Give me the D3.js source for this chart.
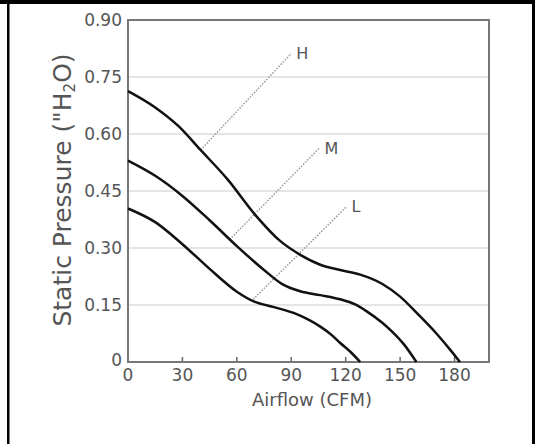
<!DOCTYPE html>
<html>
<head>
<script src="https://d3js.org/d3.v7.min.js"></script>
<style>
body { margin: 0; background: #fff; }
text { font-family: "DejaVu Sans", sans-serif; fill: #555; }
</style>
</head>
<body>
<div id="chart"></div>
<script>
// fan curves
var airflowH = [0, 15, 28, 40, 55, 70, 84, 95, 106, 117, 128, 140, 150, 160, 170, 178, 183];
var pressureH = [0.713, 0.67, 0.62, 0.558, 0.48, 0.388, 0.318, 0.282, 0.256, 0.242, 0.23, 0.206, 0.172, 0.125, 0.075, 0.03, 0];
var airflowM = [0, 15, 30, 45, 60, 75, 85, 95, 106, 117, 125, 132, 140, 146, 152, 159];
var pressureM = [0.53, 0.49, 0.437, 0.373, 0.305, 0.242, 0.205, 0.186, 0.176, 0.165, 0.152, 0.132, 0.104, 0.078, 0.047, 0];
var airflowL = [0, 15, 30, 45, 60, 70, 80, 93, 100, 106, 112, 117, 123, 128];
var pressureL = [0.404, 0.368, 0.31, 0.245, 0.185, 0.158, 0.145, 0.126, 0.11, 0.093, 0.072, 0.05, 0.025, 0];

// speed labels with their dotted leader lines
var speedNames = ["H", "M", "L"];
var leaderX0 = [40, 56, 69];
var leaderY0 = [0.558, 0.322, 0.165];
var leaderX1 = [90, 105.5, 120.5];
var leaderY1 = [0.812, 0.563, 0.409];

var xTicks = [0, 30, 60, 90, 120, 150, 180];
var yTicks = [0, 0.15, 0.30, 0.45, 0.60, 0.75, 0.90];

var width = 537, height = 444;

var svg = d3.select("#chart").append("svg")
    .attr("width", width)
    .attr("height", height);

// outer frame
svg.append("rect").attr("x", 0).attr("y", 0).attr("width", 535).attr("height", 4).attr("fill", "#000");
svg.append("rect").attr("x", 7).attr("y", 0).attr("width", 2.5).attr("height", height).attr("fill", "#000");
svg.append("rect").attr("x", 532).attr("y", 0).attr("width", 3).attr("height", height).attr("fill", "#000");

var x = d3.scaleLinear().domain([0, 199]).range([128, 489]);
var y = d3.scaleLinear().domain([0, 0.9]).range([362, 20]);

// grid
svg.append("g").selectAll("line")
    .data(yTicks.slice(1, -1))
    .enter().append("line")
    .attr("x1", x(0)).attr("x2", x(199))
    .attr("y1", function(d) { return y(d); })
    .attr("y2", function(d) { return y(d); })
    .attr("stroke", "#ddd")
    .attr("stroke-width", 1.5);

// x ticks (inside)
svg.append("g").selectAll("line")
    .data(xTicks.slice(1))
    .enter().append("line")
    .attr("x1", function(d) { return x(d); })
    .attr("x2", function(d) { return x(d); })
    .attr("y1", y(0)).attr("y2", y(0) - 5)
    .attr("stroke", "#666")
    .attr("stroke-width", 1.5);

// plot border
svg.append("rect")
    .attr("x", x(0)).attr("y", y(0.9))
    .attr("width", x(199) - x(0))
    .attr("height", y(0) - y(0.9))
    .attr("fill", "none")
    .attr("stroke", "#777")
    .attr("stroke-width", 2);

// tick labels
svg.append("g").selectAll("text")
    .data(xTicks)
    .enter().append("text")
    .attr("x", function(d) { return x(d); })
    .attr("y", 381)
    .attr("text-anchor", "middle")
    .style("font-size", "17px")
    .text(function(d) { return d; });

svg.append("g").selectAll("text")
    .data(yTicks)
    .enter().append("text")
    .attr("x", 122)
    .attr("y", function(d) { return y(d) + (d === 0 ? -2 : 0); })
    .attr("dy", "0.36em")
    .attr("text-anchor", "end")
    .style("font-size", "17px")
    .text(function(d) { return d === 0 ? "0" : d.toFixed(2); });

// axis titles
svg.append("text")
    .attr("x", 312).attr("y", 406)
    .attr("text-anchor", "middle")
    .style("font-size", "18px")
    .text("Airflow (CFM)");

var yt = svg.append("text")
    .attr("transform", "translate(71,190) rotate(-90)")
    .attr("text-anchor", "middle")
    .style("font-size", "25px");
yt.append("tspan").text("Static Pressure (\"H");
yt.append("tspan").attr("baseline-shift", "-4").style("font-size", "15px").text("2");
yt.append("tspan").text("O)");

// leaders
svg.append("g").selectAll("line")
    .data(speedNames)
    .enter().append("line")
    .attr("x1", function(d, i) { return x(leaderX0[i]); })
    .attr("y1", function(d, i) { return y(leaderY0[i]); })
    .attr("x2", function(d, i) { return x(leaderX1[i]); })
    .attr("y2", function(d, i) { return y(leaderY1[i]); })
    .attr("stroke", "#999")
    .attr("stroke-width", 1.5)
    .attr("stroke-dasharray", "1.5,1.5");

svg.append("g").selectAll("text")
    .data(speedNames)
    .enter().append("text")
    .attr("x", function(d, i) { return x(leaderX1[i]) + 5; })
    .attr("y", function(d, i) { return y(leaderY1[i]); })
    .attr("dy", "0.36em")
    .style("font-size", "16px")
    .text(function(d) { return d; });

// curves
var line = d3.line()
    .x(function(d) { return x(d[0]); })
    .y(function(d) { return y(d[1]); })
    .curve(d3.curveMonotoneX);

var series = [
    d3.zip(airflowH, pressureH),
    d3.zip(airflowM, pressureM),
    d3.zip(airflowL, pressureL)
];

svg.append("g").selectAll("path")
    .data(series)
    .enter().append("path")
    .attr("d", line)
    .attr("fill", "none")
    .attr("stroke", "#111")
    .attr("stroke-width", 2.5);
</script>
</body>
</html>
